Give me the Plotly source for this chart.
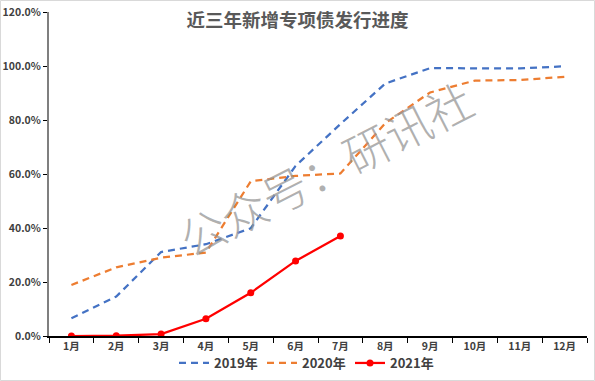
import plotly.graph_objects as go

months = ["1月", "2月", "3月", "4月", "5月", "6月", "7月", "8月", "9月", "10月", "11月", "12月"]
y2019 = [0.066, 0.146, 0.311, 0.340, 0.399, 0.630, 0.785, 0.935, 0.992, 0.991, 0.991, 0.999]
y2020 = [0.189, 0.254, 0.290, 0.309, 0.573, 0.593, 0.602, 0.788, 0.902, 0.946, 0.948, 0.960]
y2021 = [0.0, 0.001, 0.007, 0.064, 0.160, 0.278, 0.370]
m2021 = months[:len(y2021)]
yticks = [0, 0.2, 0.4, 0.6, 0.8, 1.0, 1.2]

W, H = 595, 381
L, R, T, B = 49, 8, 12, 45
pw, ph = W - L - R, H - T - B

fig = go.Figure()
fig.add_trace(go.Scatter(x=months, y=y2019, name="2019年", mode="lines",
                         line=dict(color="#4472C4", width=2.25, dash="7px,5px")))
fig.add_trace(go.Scatter(x=months, y=y2020, name="2020年", mode="lines",
                         line=dict(color="#ED7D31", width=2.25, dash="7px,5px")))
fig.add_trace(go.Scatter(x=m2021, y=y2021, name="2021年", mode="lines+markers",
                         line=dict(color="#FF0000", width=2.25),
                         marker=dict(color="#FF0000", size=7)))

tick_font = dict(size=10.5, color="#404040", family="Noto Sans CJK SC", weight=600)

fig.update_layout(
    width=W, height=H,
    margin=dict(l=L, r=R, t=T, b=B, autoexpand=False),
    paper_bgcolor="white", plot_bgcolor="white",
    font=dict(family="Noto Sans CJK SC", color="#404040", size=10),
    title=dict(text="<b>近三年新增专项债发行进度</b>", x=0.5, xanchor="center",
               y=1 - 21 / H, yanchor="middle", automargin=False,
               font=dict(size=18.5, color="#595959", family="Noto Sans CJK SC")),
    showlegend=True,
    legend=dict(orientation="h", x=(174 - L) / pw, xanchor="left", y=-(363 - T - ph) / ph,
                yanchor="middle", bgcolor="rgba(0,0,0,0)",
                font=dict(size=13, color="#404040", family="Noto Sans CJK SC", weight=600),
                itemwidth=30, entrywidth=43, entrywidthmode="pixels",
                traceorder="normal"),
    xaxis=dict(type="category", showgrid=False, showline=True, linecolor="#000000",
               linewidth=1.5, ticks="outside", tickson="boundaries", ticklen=5,
               tickcolor="#000000", tickfont=tick_font, automargin=False,
               range=[-0.5, 11.5]),
    yaxis=dict(range=[0, 1.2], tickvals=yticks, tickformat=".1%", showgrid=False,
               showline=True, linecolor="#7f7f7f", linewidth=2, ticks="outside",
               ticklen=4, tickcolor="#000000", tickfont=tick_font, automargin=False,
               zeroline=False),
)

# watermark
fig.add_annotation(text="公众号：研讯社", xref="paper", yref="paper",
                   x=(325 - L) / pw, y=1 - (168 - T) / ph, showarrow=False,
                   textangle=-27, font=dict(size=46, color="rgba(150,150,150,0.75)",
                                            family="Noto Sans CJK SC", weight=300))

# outer border
fig.add_shape(type="rect", xref="paper", yref="paper",
              x0=(0.5 - L) / pw, x1=(W - 0.5 - L) / pw,
              y0=-(H - 0.5 - T - ph) / ph, y1=1 + (T - 0.5) / ph,
              line=dict(color="#d9d9d9", width=1), layer="below")

fig.write_html("out.html", config={"displayModeBar": False},
               post_script="document.body.style.margin='0';")
